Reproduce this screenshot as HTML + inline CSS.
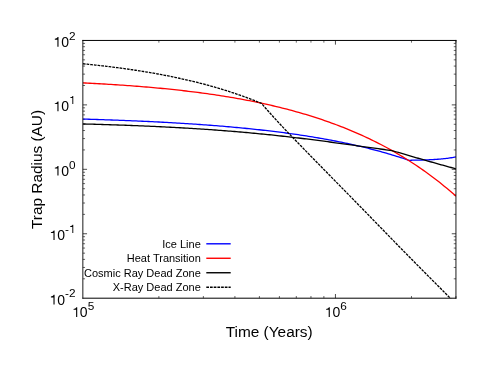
<!DOCTYPE html>
<html><head><meta charset="utf-8"><title>Trap Radius</title>
<style>
html,body{margin:0;padding:0;background:#fff;}
body{width:485px;height:374px;overflow:hidden;}
svg{display:block;will-change:transform;}
text{font-family:"Liberation Sans",sans-serif;fill:#000;}
.tl{font-size:14px;}
.sup{font-size:11.8px;}
.lg{font-size:11px;}
.ax{font-size:15.4px;}
.tk{stroke:#000;stroke-width:0.7;fill:none;}
.tm{stroke:#000;stroke-width:0.6;fill:none;}
.c{fill:none;stroke-width:1.3;stroke-linejoin:round;}
</style></head><body>
<svg width="485" height="374" viewBox="0 0 485 374">
<rect width="485" height="374" fill="#fff"/>
<defs><clipPath id="cp"><rect x="82.85" y="40.45" width="373.1" height="257.75"/></clipPath></defs>
<path d="M82.85,278.80 h2.2 M455.95,278.80 h-2.2" class="tm"/>
<path d="M82.85,267.46 h2.2 M455.95,267.46 h-2.2" class="tm"/>
<path d="M82.85,259.40 h2.2 M455.95,259.40 h-2.2" class="tm"/>
<path d="M82.85,253.16 h2.2 M455.95,253.16 h-2.2" class="tm"/>
<path d="M82.85,248.06 h2.2 M455.95,248.06 h-2.2" class="tm"/>
<path d="M82.85,243.74 h2.2 M455.95,243.74 h-2.2" class="tm"/>
<path d="M82.85,240.01 h2.2 M455.95,240.01 h-2.2" class="tm"/>
<path d="M82.85,236.71 h2.2 M455.95,236.71 h-2.2" class="tm"/>
<path d="M82.85,233.76 h4.2 M455.95,233.76 h-4.2" class="tk"/>
<path d="M82.85,214.36 h2.2 M455.95,214.36 h-2.2" class="tm"/>
<path d="M82.85,203.02 h2.2 M455.95,203.02 h-2.2" class="tm"/>
<path d="M82.85,194.97 h2.2 M455.95,194.97 h-2.2" class="tm"/>
<path d="M82.85,188.72 h2.2 M455.95,188.72 h-2.2" class="tm"/>
<path d="M82.85,183.62 h2.2 M455.95,183.62 h-2.2" class="tm"/>
<path d="M82.85,179.31 h2.2 M455.95,179.31 h-2.2" class="tm"/>
<path d="M82.85,175.57 h2.2 M455.95,175.57 h-2.2" class="tm"/>
<path d="M82.85,172.27 h2.2 M455.95,172.27 h-2.2" class="tm"/>
<path d="M82.85,169.32 h4.2 M455.95,169.32 h-4.2" class="tk"/>
<path d="M82.85,149.93 h2.2 M455.95,149.93 h-2.2" class="tm"/>
<path d="M82.85,138.58 h2.2 M455.95,138.58 h-2.2" class="tm"/>
<path d="M82.85,130.53 h2.2 M455.95,130.53 h-2.2" class="tm"/>
<path d="M82.85,124.29 h2.2 M455.95,124.29 h-2.2" class="tm"/>
<path d="M82.85,119.18 h2.2 M455.95,119.18 h-2.2" class="tm"/>
<path d="M82.85,114.87 h2.2 M455.95,114.87 h-2.2" class="tm"/>
<path d="M82.85,111.13 h2.2 M455.95,111.13 h-2.2" class="tm"/>
<path d="M82.85,107.84 h2.2 M455.95,107.84 h-2.2" class="tm"/>
<path d="M82.85,104.89 h4.2 M455.95,104.89 h-4.2" class="tk"/>
<path d="M82.85,85.49 h2.2 M455.95,85.49 h-2.2" class="tm"/>
<path d="M82.85,74.14 h2.2 M455.95,74.14 h-2.2" class="tm"/>
<path d="M82.85,66.09 h2.2 M455.95,66.09 h-2.2" class="tm"/>
<path d="M82.85,59.85 h2.2 M455.95,59.85 h-2.2" class="tm"/>
<path d="M82.85,54.75 h2.2 M455.95,54.75 h-2.2" class="tm"/>
<path d="M82.85,50.43 h2.2 M455.95,50.43 h-2.2" class="tm"/>
<path d="M82.85,46.69 h2.2 M455.95,46.69 h-2.2" class="tm"/>
<path d="M82.85,43.40 h2.2 M455.95,43.40 h-2.2" class="tm"/>
<path d="M158.89,298.2 v-2.2 M158.89,40.45 v2.2" class="tm"/>
<path d="M203.36,298.2 v-2.2 M203.36,40.45 v2.2" class="tm"/>
<path d="M234.92,298.2 v-2.2 M234.92,40.45 v2.2" class="tm"/>
<path d="M259.40,298.2 v-2.2 M259.40,40.45 v2.2" class="tm"/>
<path d="M279.40,298.2 v-2.2 M279.40,40.45 v2.2" class="tm"/>
<path d="M296.31,298.2 v-2.2 M296.31,40.45 v2.2" class="tm"/>
<path d="M310.96,298.2 v-2.2 M310.96,40.45 v2.2" class="tm"/>
<path d="M323.88,298.2 v-2.2 M323.88,40.45 v2.2" class="tm"/>
<path d="M335.44,298.2 v-4.2 M335.44,40.45 v4.2" class="tk"/>
<path d="M411.47,298.2 v-2.2 M411.47,40.45 v2.2" class="tm"/>
<path d="M455.95,298.2 v-2.2 M455.95,40.45 v2.2" class="tm"/>
<g clip-path="url(#cp)">
<path class="c" stroke="#0000ff" d="M82.85,119.10 L84.90,119.16 L86.95,119.21 L89.00,119.27 L91.05,119.34 L93.10,119.40 L95.15,119.46 L97.20,119.52 L99.26,119.59 L101.31,119.65 L103.36,119.72 L105.41,119.79 L107.46,119.86 L109.51,119.93 L111.56,120.00 L113.61,120.08 L115.66,120.15 L117.71,120.22 L119.76,120.30 L121.81,120.38 L123.86,120.46 L125.91,120.54 L127.96,120.62 L130.01,120.70 L132.07,120.79 L134.12,120.87 L136.17,120.96 L138.22,121.05 L140.27,121.14 L142.32,121.23 L144.37,121.33 L146.42,121.42 L148.47,121.52 L150.52,121.62 L152.57,121.71 L154.62,121.82 L156.67,121.92 L158.72,122.02 L160.77,122.13 L162.82,122.24 L164.88,122.35 L166.93,122.46 L168.98,122.57 L171.03,122.68 L173.08,122.80 L175.13,122.92 L177.18,123.04 L179.23,123.16 L181.28,123.29 L183.33,123.41 L185.38,123.54 L187.43,123.67 L189.48,123.80 L191.53,123.94 L193.58,124.07 L195.63,124.21 L197.69,124.35 L199.74,124.50 L201.79,124.64 L203.84,124.79 L205.89,124.94 L207.94,125.09 L209.99,125.25 L212.04,125.40 L214.09,125.56 L216.14,125.72 L218.19,125.89 L220.24,126.06 L222.29,126.22 L224.34,126.40 L226.39,126.57 L228.44,126.75 L230.50,126.93 L232.55,127.11 L234.60,127.30 L236.65,127.49 L238.70,127.68 L240.75,127.87 L242.80,128.07 L244.85,128.27 L246.90,128.48 L248.95,128.68 L251.00,128.89 L253.05,129.11 L255.10,129.32 L257.15,129.54 L259.20,129.77 L261.25,129.99 L263.31,130.23 L265.36,130.46 L267.41,130.70 L269.46,130.94 L271.51,131.18 L273.56,131.43 L275.61,131.68 L277.66,131.94 L279.71,132.20 L281.76,132.47 L283.81,132.73 L285.86,133.01 L287.91,133.28 L289.96,133.57 L292.01,133.85 L294.06,134.14 L296.12,134.44 L298.17,134.73 L300.22,135.04 L302.27,135.35 L304.32,135.66 L306.37,135.98 L308.42,136.30 L310.47,136.63 L312.52,136.96 L314.57,137.30 L316.62,137.64 L318.67,137.99 L320.72,138.35 L322.77,138.71 L324.82,139.07 L326.87,139.44 L328.93,139.82 L330.98,140.20 L333.03,140.59 L335.08,140.99 L337.13,141.39 L339.18,141.80 L341.23,142.21 L343.28,142.63 L345.33,143.06 L347.38,143.49 L349.43,143.93 L351.48,144.38 L353.53,144.84 L355.58,145.30 L357.63,145.77 L359.68,146.24 L361.74,146.73 L363.79,147.22 L365.84,147.72 L367.89,148.23 L369.94,148.75 L371.99,149.27 L374.04,149.80 L376.09,150.35 L378.14,150.90 L380.19,151.46 L382.24,152.02 L384.29,152.60 L386.34,153.19 L388.39,153.79 L390.44,154.39 L392.49,155.01 L394.55,155.63 L396.60,156.27 L398.65,156.92 L400.70,157.58 L402.75,158.24 L404.80,158.92 L406.85,159.61 L408.90,160.32 L408.90,160.32 L410.11,160.28 L411.31,160.25 L412.52,160.22 L413.73,160.19 L414.93,160.17 L416.14,160.14 L417.34,160.11 L418.55,160.08 L419.76,160.06 L420.96,160.03 L422.17,159.99 L423.38,159.96 L424.58,159.93 L425.79,159.89 L427.00,159.85 L428.20,159.80 L429.41,159.75 L430.62,159.70 L431.82,159.64 L433.03,159.58 L434.23,159.51 L435.44,159.44 L436.65,159.35 L437.85,159.27 L439.06,159.17 L440.27,159.07 L441.47,158.96 L442.68,158.85 L443.89,158.72 L445.09,158.58 L446.30,158.44 L447.51,158.29 L448.71,158.12 L449.92,157.95 L451.12,157.76 L452.33,157.57 L453.54,157.36 L454.74,157.14 L455.95,156.91"/>
<path class="c" stroke="#ff0000" d="M82.85,82.88 L85.20,83.00 L87.54,83.12 L89.89,83.24 L92.24,83.36 L94.58,83.49 L96.93,83.62 L99.28,83.75 L101.62,83.88 L103.97,84.02 L106.32,84.16 L108.66,84.30 L111.01,84.44 L113.36,84.59 L115.70,84.74 L118.05,84.90 L120.39,85.05 L122.74,85.21 L125.09,85.38 L127.43,85.55 L129.78,85.72 L132.13,85.89 L134.47,86.07 L136.82,86.25 L139.17,86.43 L141.51,86.62 L143.86,86.81 L146.21,87.01 L148.55,87.21 L150.90,87.41 L153.25,87.62 L155.59,87.83 L157.94,88.05 L160.29,88.27 L162.63,88.49 L164.98,88.72 L167.33,88.96 L169.67,89.20 L172.02,89.44 L174.37,89.69 L176.71,89.94 L179.06,90.20 L181.40,90.46 L183.75,90.73 L186.10,91.00 L188.44,91.28 L190.79,91.56 L193.14,91.85 L195.48,92.15 L197.83,92.45 L200.18,92.76 L202.52,93.07 L204.87,93.39 L207.22,93.71 L209.56,94.04 L211.91,94.38 L214.26,94.72 L216.60,95.07 L218.95,95.43 L221.30,95.79 L223.64,96.16 L225.99,96.54 L228.34,96.92 L230.68,97.32 L233.03,97.72 L235.38,98.12 L237.72,98.54 L240.07,98.96 L242.41,99.39 L244.76,99.83 L247.11,100.27 L249.45,100.73 L251.80,101.19 L254.15,101.66 L256.49,102.14 L258.84,102.63 L261.19,103.12 L263.53,103.63 L265.88,104.15 L268.23,104.67 L270.57,105.21 L272.92,105.75 L275.27,106.31 L277.61,106.87 L279.96,107.45 L282.31,108.03 L284.65,108.63 L287.00,109.23 L289.35,109.85 L291.69,110.48 L294.04,111.12 L296.39,111.77 L298.73,112.43 L301.08,113.10 L303.42,113.79 L305.77,114.49 L308.12,115.20 L310.46,115.92 L312.81,116.66 L315.16,117.40 L317.50,118.17 L319.85,118.94 L322.20,119.73 L324.54,120.53 L326.89,121.35 L329.24,122.18 L331.58,123.02 L333.93,123.88 L336.28,124.75 L338.62,125.64 L340.97,126.55 L343.32,127.47 L345.66,128.40 L348.01,129.36 L350.36,130.32 L352.70,131.31 L355.05,132.31 L357.40,133.33 L359.74,134.37 L362.09,135.42 L364.43,136.49 L366.78,137.58 L369.13,138.69 L371.47,139.82 L373.82,140.97 L376.17,142.13 L378.51,143.32 L380.86,144.53 L383.21,145.75 L385.55,147.00 L387.90,148.27 L390.25,149.56 L392.59,150.88 L394.94,152.21 L397.29,153.57 L399.63,154.95 L401.98,156.35 L404.33,157.78 L406.67,159.23 L409.02,160.71 L411.37,162.21 L413.71,163.74 L416.06,165.29 L418.41,166.87 L420.75,168.48 L423.10,170.11 L425.44,171.77 L427.79,173.46 L430.14,175.18 L432.48,176.93 L434.83,178.71 L437.18,180.51 L439.52,182.35 L441.87,184.22 L444.22,186.13 L446.56,188.06 L448.91,190.03 L451.26,192.04 L453.60,194.07 L455.95,196.15"/>
<path class="c" stroke="#000" d="M82.85,123.96 L84.79,124.01 L86.74,124.06 L88.68,124.12 L90.62,124.17 L92.57,124.22 L94.51,124.27 L96.46,124.33 L98.40,124.39 L100.34,124.44 L102.29,124.50 L104.23,124.56 L106.17,124.62 L108.12,124.68 L110.06,124.74 L112.01,124.80 L113.95,124.87 L115.89,124.93 L117.84,125.00 L119.78,125.06 L121.72,125.13 L123.67,125.20 L125.61,125.27 L127.56,125.34 L129.50,125.42 L131.44,125.49 L133.39,125.56 L135.33,125.64 L137.27,125.72 L139.22,125.80 L141.16,125.88 L143.11,125.96 L145.05,126.04 L146.99,126.12 L148.94,126.21 L150.88,126.29 L152.82,126.38 L154.77,126.47 L156.71,126.56 L158.65,126.65 L160.60,126.74 L162.54,126.84 L164.49,126.93 L166.43,127.03 L168.37,127.13 L170.32,127.23 L172.26,127.33 L174.20,127.44 L176.15,127.54 L178.09,127.65 L180.04,127.76 L181.98,127.87 L183.92,127.98 L185.87,128.09 L187.81,128.21 L189.75,128.32 L191.70,128.44 L193.64,128.56 L195.59,128.68 L197.53,128.81 L199.47,128.93 L201.42,129.06 L203.36,129.19 L205.30,129.32 L207.25,129.45 L209.19,129.59 L211.13,129.72 L213.08,129.86 L215.02,130.00 L216.97,130.14 L218.91,130.29 L220.85,130.43 L222.80,130.58 L224.74,130.73 L226.68,130.88 L228.63,131.04 L230.57,131.19 L232.52,131.35 L234.46,131.51 L236.40,131.67 L238.35,131.84 L240.29,132.01 L242.23,132.18 L244.18,132.35 L246.12,132.52 L248.07,132.69 L250.01,132.87 L251.95,133.05 L253.90,133.23 L255.84,133.42 L257.78,133.60 L259.73,133.79 L261.67,133.98 L263.62,134.18 L265.56,134.37 L267.50,134.57 L269.45,134.77 L271.39,134.97 L273.33,135.17 L275.28,135.38 L277.22,135.59 L279.16,135.80 L281.11,136.01 L283.05,136.23 L285.00,136.44 L286.94,136.66 L288.88,136.89 L290.83,137.11 L292.77,137.33 L294.71,137.56 L296.66,137.79 L298.60,138.02 L300.55,138.26 L302.49,138.50 L304.43,138.73 L306.38,138.97 L308.32,139.22 L310.26,139.46 L312.21,139.71 L314.15,139.95 L316.10,140.20 L318.04,140.45 L319.98,140.71 L321.93,140.96 L323.87,141.22 L325.81,141.48 L327.76,141.73 L329.70,141.99 L331.64,142.26 L333.59,142.52 L335.53,142.78 L337.48,143.05 L339.42,143.32 L341.36,143.58 L343.31,143.85 L345.25,144.12 L347.19,144.39 L349.14,144.66 L351.08,144.94 L353.03,145.21 L354.97,145.48 L356.91,145.75 L358.86,146.02 L360.80,146.30 L362.74,146.57 L364.69,146.84 L366.63,147.11 L368.58,147.38 L370.52,147.65 L372.46,147.92 L374.41,148.19 L376.35,148.46 L378.29,148.72 L380.24,148.99 L382.18,149.25 L384.13,149.51 L386.07,149.77 L388.01,150.02 L389.96,150.28 L391.90,150.53 L391.90,150.53 L393.54,151.02 L395.18,151.51 L396.83,152.00 L398.47,152.49 L400.11,152.97 L401.75,153.46 L403.40,153.94 L405.04,154.42 L406.68,154.91 L408.32,155.39 L409.97,155.87 L411.61,156.35 L413.25,156.82 L414.89,157.30 L416.53,157.78 L418.18,158.25 L419.82,158.72 L421.46,159.19 L423.10,159.67 L424.75,160.14 L426.39,160.60 L428.03,161.07 L429.67,161.54 L431.32,162.00 L432.96,162.47 L434.60,162.93 L436.24,163.39 L437.88,163.85 L439.53,164.31 L441.17,164.77 L442.81,165.23 L444.45,165.69 L446.10,166.14 L447.74,166.60 L449.38,167.05 L451.02,167.50 L452.67,167.95 L454.31,168.40 L455.95,168.85"/>
<path class="c" stroke="#000" stroke-width="1.6" stroke-dasharray="2.7 1.0" d="M82.85,63.76 L83.97,63.87 L85.10,63.98 L86.22,64.09 L87.34,64.21 L88.46,64.32 L89.59,64.44 L90.71,64.55 L91.83,64.67 L92.96,64.79 L94.08,64.91 L95.20,65.03 L96.33,65.16 L97.45,65.28 L98.57,65.40 L99.69,65.53 L100.82,65.66 L101.94,65.78 L103.06,65.91 L104.19,66.05 L105.31,66.18 L106.43,66.31 L107.56,66.44 L108.68,66.58 L109.80,66.72 L110.92,66.86 L112.05,67.00 L113.17,67.14 L114.29,67.28 L115.42,67.42 L116.54,67.57 L117.66,67.71 L118.78,67.86 L119.91,68.01 L121.03,68.16 L122.15,68.31 L123.28,68.47 L124.40,68.62 L125.52,68.78 L126.65,68.94 L127.77,69.09 L128.89,69.26 L130.01,69.42 L131.14,69.58 L132.26,69.75 L133.38,69.91 L134.51,70.08 L135.63,70.25 L136.75,70.42 L137.87,70.60 L139.00,70.77 L140.12,70.95 L141.24,71.13 L142.37,71.31 L143.49,71.49 L144.61,71.67 L145.74,71.85 L146.86,72.04 L147.98,72.23 L149.10,72.42 L150.23,72.61 L151.35,72.80 L152.47,73.00 L153.60,73.20 L154.72,73.40 L155.84,73.60 L156.97,73.80 L158.09,74.00 L159.21,74.21 L160.33,74.42 L161.46,74.63 L162.58,74.84 L163.70,75.05 L164.83,75.27 L165.95,75.49 L167.07,75.71 L168.19,75.93 L169.32,76.15 L170.44,76.38 L171.56,76.61 L172.69,76.84 L173.81,77.07 L174.93,77.30 L176.06,77.54 L177.18,77.78 L178.30,78.02 L179.42,78.26 L180.55,78.51 L181.67,78.76 L182.79,79.01 L183.92,79.26 L185.04,79.51 L186.16,79.77 L187.28,80.03 L188.41,80.29 L189.53,80.55 L190.65,80.82 L191.78,81.09 L192.90,81.36 L194.02,81.63 L195.15,81.91 L196.27,82.18 L197.39,82.46 L198.51,82.75 L199.64,83.03 L200.76,83.32 L201.88,83.61 L203.01,83.91 L204.13,84.20 L205.25,84.50 L206.38,84.80 L207.50,85.11 L208.62,85.41 L209.74,85.72 L210.87,86.03 L211.99,86.35 L213.11,86.67 L214.24,86.99 L215.36,87.31 L216.48,87.64 L217.60,87.97 L218.73,88.30 L219.85,88.64 L220.97,88.97 L222.10,89.32 L223.22,89.66 L224.34,90.01 L225.47,90.36 L226.59,90.71 L227.71,91.07 L228.83,91.43 L229.96,91.79 L231.08,92.16 L232.20,92.53 L233.33,92.90 L234.45,93.28 L235.57,93.66 L236.69,94.04 L237.82,94.42 L238.94,94.81 L240.06,95.21 L241.19,95.60 L242.31,96.00 L243.43,96.41 L244.56,96.81 L245.68,97.22 L246.80,97.64 L247.92,98.06 L249.05,98.48 L250.17,98.90 L251.29,99.33 L252.42,99.76 L253.54,100.20 L254.66,100.64 L255.79,101.08 L256.91,101.53 L258.03,101.98 L259.15,102.44 L260.28,102.90 L261.40,103.36 L261.40,103.36 L263.86,106.18 L266.33,108.97 L268.79,111.74 L271.25,114.49 L273.71,117.22 L276.18,119.93 L278.64,122.61 L281.10,125.27 L283.56,127.90 L286.03,130.51 L288.49,133.08 L290.95,135.64 L293.41,138.18 L295.88,140.72 L298.34,143.26 L300.80,145.80 L303.27,148.34 L305.73,150.88 L308.19,153.41 L310.65,155.93 L313.12,158.45 L315.58,160.97 L318.04,163.49 L320.50,166.00 L322.97,168.52 L325.43,171.03 L327.89,173.55 L330.35,176.06 L332.82,178.58 L335.28,181.09 L337.74,183.60 L340.21,186.11 L342.67,188.62 L345.13,191.13 L347.59,193.65 L350.06,196.16 L352.52,198.67 L354.98,201.18 L357.44,203.70 L359.91,206.22 L362.37,208.74 L364.83,211.27 L367.29,213.80 L369.76,216.33 L372.22,218.86 L374.68,221.40 L377.14,223.93 L379.61,226.47 L382.07,229.01 L384.53,231.54 L387.00,234.07 L389.46,236.61 L391.92,239.14 L394.38,241.66 L396.85,244.19 L399.31,246.71 L401.77,249.22 L404.23,251.73 L406.70,254.23 L409.16,256.74 L411.62,259.23 L414.08,261.73 L416.55,264.22 L419.01,266.71 L421.47,269.20 L423.94,271.69 L426.40,274.17 L428.86,276.66 L431.32,279.14 L433.79,281.61 L436.25,284.09 L438.71,286.57 L441.17,289.04 L443.64,291.51 L446.10,293.99 L448.56,296.46 L451.02,298.93 L453.49,301.39 L455.95,303.85"/>
</g>
<path d="M82.85,39.95 V298.7 M455.95,39.95 V298.7" fill="none" stroke="#000" stroke-width="0.9"/>
<path d="M82.39999999999999,40.45 H456.4 M82.39999999999999,298.2 H456.4" fill="none" stroke="#000" stroke-width="1.0"/>
<path d="M54.58,304.50 L53.47,304.50 L53.47,297.40 L50.90,297.40 L50.90,296.62 C52.10,296.49 53.22,296.10 53.70,294.84 L54.58,294.84 Z" fill="#000"/><text x="57.23" y="304.50" class="tl">0</text><text x="65.01" y="297.40" class="sup">-</text><text x="68.94" y="297.40" class="sup">2</text>
<path d="M54.58,240.06 L53.47,240.06 L53.47,232.96 L50.90,232.96 L50.90,232.18 C52.10,232.05 53.22,231.66 53.70,230.40 L54.58,230.40 Z" fill="#000"/><text x="57.23" y="240.06" class="tl">0</text><text x="65.01" y="232.96" class="sup">-</text><path d="M73.27,232.96 L72.34,232.96 L72.34,226.98 L70.17,226.98 L70.17,226.32 C71.18,226.21 72.13,225.88 72.53,224.82 L73.27,224.82 Z" fill="#000"/>
<path d="M58.51,175.62 L57.40,175.62 L57.40,168.53 L54.83,168.53 L54.83,167.74 C56.03,167.62 57.15,167.22 57.63,165.97 L58.51,165.97 Z" fill="#000"/><text x="61.16" y="175.62" class="tl">0</text><text x="68.94" y="168.53" class="sup">0</text>
<path d="M58.51,111.19 L57.40,111.19 L57.40,104.09 L54.83,104.09 L54.83,103.31 C56.03,103.18 57.15,102.79 57.63,101.53 L58.51,101.53 Z" fill="#000"/><text x="61.16" y="111.19" class="tl">0</text><path d="M73.27,104.09 L72.34,104.09 L72.34,98.10 L70.17,98.10 L70.17,97.44 C71.18,97.34 72.13,97.01 72.53,95.95 L73.27,95.95 Z" fill="#000"/>
<path d="M58.51,46.75 L57.40,46.75 L57.40,39.65 L54.83,39.65 L54.83,38.87 C56.03,38.74 57.15,38.35 57.63,37.09 L58.51,37.09 Z" fill="#000"/><text x="61.16" y="46.75" class="tl">0</text><text x="68.94" y="39.65" class="sup">2</text>
<path d="M77.22,316.90 L76.12,316.90 L76.12,309.80 L73.54,309.80 L73.54,309.02 C74.75,308.89 75.87,308.50 76.34,307.24 L77.22,307.24 Z" fill="#000"/><text x="79.87" y="316.90" class="tl">0</text><text x="87.65" y="309.80" class="sup">5</text>
<path d="M329.81,316.90 L328.70,316.90 L328.70,309.80 L326.13,309.80 L326.13,309.02 C327.33,308.89 328.45,308.50 328.93,307.24 L329.81,307.24 Z" fill="#000"/><text x="332.46" y="316.90" class="tl">0</text><text x="340.24" y="309.80" class="sup">6</text>
<text x="200.8" y="247.60" text-anchor="end" class="lg">Ice Line</text>
<path d="M206.3,243.80 H230.7" stroke="#0000ff" stroke-width="1.4" fill="none"/>
<text x="200.8" y="262.07" text-anchor="end" class="lg">Heat Transition</text>
<path d="M206.3,258.27 H230.7" stroke="#ff0000" stroke-width="1.4" fill="none"/>
<text x="200.8" y="276.54" text-anchor="end" class="lg">Cosmic Ray Dead Zone</text>
<path d="M206.3,272.74 H230.7" stroke="#000000" stroke-width="1.4" fill="none"/>
<text x="200.8" y="291.01" text-anchor="end" class="lg">X-Ray Dead Zone</text>
<path d="M206.3,287.21 H230.7" stroke="#000000" stroke-width="1.4" fill="none" stroke-dasharray="2.7 1.0"/>
<text x="269.2" y="337.4" text-anchor="middle" class="ax">Time (Years)</text>
<text transform="translate(41.6,169.5) rotate(-90)" text-anchor="middle" class="ax">Trap Radius (AU)</text>
</svg>
</body></html>
